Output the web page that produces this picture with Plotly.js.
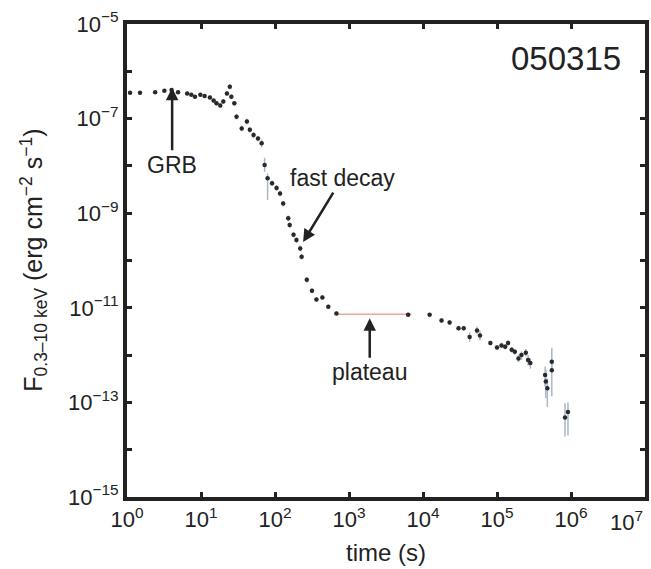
<!DOCTYPE html>
<html>
<head>
<meta charset="utf-8">
<script src="https://cdn.plot.ly/plotly-3.0.1.min.js"></script>
<style>html,body{margin:0;padding:0;background:#fff}#chart{width:651px;height:569px}</style>
</head>
<body>
<div id="chart"></div>
<script>
// observed light curve of GRB 050315 (time in s, flux in erg cm^-2 s^-1)
var timeS = [1.1, 1.5, 2.4, 3.2, 4.0, 4.9, 6.5, 7.4, 8.3, 9.8, 11.2, 13.2, 14.8, 16.2, 18.2, 20, 22.4, 24.5, 25.7, 28.2, 30.2,
  35.5, 41.7, 45.7, 51.3, 58.9, 66, 72.4, 79.4, 91.2, 105, 117, 129, 151, 158, 178, 195, 219, 229, 269, 316,
  363, 437, 525, 676, 6300, 12300, 17800, 22900, 30200, 35500, 42700, 53700, 58900, 81300,
  1.0e5, 1.15e5, 1.29e5, 1.41e5, 1.58e5, 1.74e5, 1.95e5, 2.14e5, 2.45e5, 2.63e5, 2.82e5,
  4.47e5, 4.57e5, 4.79e5, 5.5e5, 5.5e5, 8.3e5, 9.1e5];
var flux = [3.5e-7, 3.5e-7, 3.6e-7, 3.9e-7, 4.0e-7, 3.6e-7, 3.4e-7, 3.2e-7, 2.9e-7, 3.2e-7, 3.0e-7, 2.8e-7, 2.4e-7, 2.1e-7, 1.9e-7, 2.3e-7, 3.4e-7, 4.7e-7, 2.9e-7, 2.1e-7, 1.1e-7,
  6.2e-8, 8.7e-8, 5.8e-8, 4.5e-8, 3.8e-8, 3.0e-8, 1.05e-8, 5.5e-9, 4.3e-9, 3.4e-9, 2.6e-9, 1.6e-9, 7.8e-10, 5.6e-10, 3.5e-10, 2.7e-10, 1.8e-10, 1.2e-10, 3.9e-11, 2.3e-11,
  1.5e-11, 1.66e-11, 1.05e-11, 7.6e-12, 7.1e-12, 7.1e-12, 5.4e-12, 4.9e-12, 3.7e-12, 3.7e-12, 2.4e-12, 3.3e-12, 2.6e-12, 1.8e-12,
  1.45e-12, 1.6e-12, 1.5e-12, 1.8e-12, 1.3e-12, 1.17e-12, 8.5e-13, 1.0e-12, 1.12e-12, 7.9e-13, 6.8e-13,
  3.8e-13, 2.75e-13, 2.0e-13, 7.2e-13, 4.8e-13, 4.8e-14, 6.3e-14];
// error bar half-lengths in decades (upper / lower)
var errHiDex = [0.03, 0.03, 0.03, 0.03, 0.03, 0.03, 0.03, 0.03, 0.03, 0.03, 0.03, 0.04, 0.04, 0.04, 0.05, 0.05, 0.05, 0.05, 0.05, 0.05, 0.06,
  0.06, 0.06, 0.06, 0.06, 0.06, 0.08, 0.15, 0.10, 0.06, 0.06, 0.06, 0.06, 0.06, 0.06, 0.06, 0.06, 0.06, 0.06, 0.06, 0.05,
  0.05, 0.05, 0.05, 0.04, 0.04, 0.04, 0.05, 0.05, 0.05, 0.05, 0.10, 0.08, 0.10, 0.05,
  0.05, 0.06, 0.06, 0.06, 0.06, 0.06, 0.08, 0.08, 0.08, 0.10, 0.10,
  0.18, 0.25, 0.20, 0.30, 0.20, 0.30, 0.20];
var errLoDex = [0.03, 0.03, 0.03, 0.03, 0.03, 0.03, 0.03, 0.03, 0.03, 0.03, 0.03, 0.04, 0.04, 0.04, 0.05, 0.05, 0.05, 0.05, 0.05, 0.05, 0.06,
  0.06, 0.06, 0.06, 0.06, 0.06, 0.08, 0.15, 0.46, 0.06, 0.06, 0.06, 0.06, 0.06, 0.06, 0.06, 0.06, 0.06, 0.06, 0.06, 0.05,
  0.05, 0.05, 0.05, 0.04, 0.04, 0.04, 0.05, 0.05, 0.05, 0.05, 0.10, 0.08, 0.10, 0.05,
  0.05, 0.06, 0.06, 0.06, 0.06, 0.06, 0.08, 0.10, 0.08, 0.12, 0.12,
  0.25, 0.35, 0.40, 0.20, 0.55, 0.40, 0.50];
// plateau segment
var plateauT = [700, 7000];
var plateauF = [7.3e-12, 7.3e-12];

var xTickVals = [1, 10, 100, 1e3, 1e4, 1e5, 1e6, 1e7];
var xTickText = ['10<sup>0</sup>', '10<sup>1</sup>', '10<sup>2</sup>', '10<sup>3</sup>', '10<sup>4</sup>', '10<sup>5</sup>', '10<sup>6</sup>', ''];
var xLastLabel = '10<sup>7</sup>';
var yTickVals = [1e-15, 1e-14, 1e-13, 1e-12, 1e-11, 1e-10, 1e-9, 1e-8, 1e-7, 1e-6, 1e-5];
var yTickText = ['10<sup>\u221215</sup>', '', '10<sup>\u221213</sup>', '', '10<sup>\u221211</sup>', '', '10<sup>\u22129</sup>', '', '10<sup>\u22127</sup>', '', '10<sup>\u22125</sup>'];

var errPlus = flux.map(function (f, i) { return f * (Math.pow(10, errHiDex[i]) - 1); });
var errMinus = flux.map(function (f, i) { return f * (1 - Math.pow(10, -errLoDex[i])); });

var FONT = 'Liberation Sans, Arial, Helvetica, sans-serif';
var INK = '#222';

var traces = [
  {x: plateauT, y: plateauF, mode: 'lines', line: {color: '#eba79e', width: 1.5}, hoverinfo: 'skip', showlegend: false},
  {x: timeS, y: flux, mode: 'markers', type: 'scatter',
   marker: {color: '#2a2a2a', size: 4.5},
   error_y: {type: 'data', symmetric: false, array: errPlus, arrayminus: errMinus, color: '#a7b9cc', thickness: 1.5, width: 0},
   showlegend: false}
];

var layout = {
  width: 651, height: 569,
  margin: {l: 127, r: 6, t: 24, b: 72},
  paper_bgcolor: '#fff', plot_bgcolor: '#fff',
  font: {family: FONT, color: INK, size: 22},
  showlegend: false,
  xaxis: {
    type: 'log', range: [0, 7], tickmode: 'array', tickvals: xTickVals, ticktext: xTickText,
    ticks: 'inside', ticklen: 5, tickwidth: 3, tickcolor: INK,
    showline: true, linewidth: 4, linecolor: INK, mirror: 'ticks',
    showgrid: false, zeroline: false,
    tickfont: {size: 22, family: FONT, color: INK},
    title: {text: 'time (s)', font: {size: 24, family: FONT, color: INK}, standoff: 14}
  },
  yaxis: {
    type: 'log', range: [-15, -5], tickmode: 'array', tickvals: yTickVals, ticktext: yTickText,
    ticks: 'inside', ticklen: 5, tickwidth: 3, tickcolor: INK,
    showline: true, linewidth: 4, linecolor: INK, mirror: 'ticks',
    showgrid: false, zeroline: false,
    tickfont: {size: 22, family: FONT, color: INK}
  },
  annotations: [
    {xref: 'paper', yref: 'paper', x: -0.181, y: 0.5, text: 'F<sub>0.3\u201310 keV</sub> (erg cm<sup>\u22122</sup> s<sup>\u22121</sup>)',
     textangle: -90, showarrow: false, xanchor: 'center', yanchor: 'middle', font: {size: 25, family: FONT, color: INK}},
    {xref: 'paper', yref: 'paper', x: 1.0, y: 0, yshift: -8, text: xLastLabel, showarrow: false, xanchor: 'right', yanchor: 'top',
     font: {size: 22, family: FONT, color: INK}},
    {xref: 'paper', yref: 'paper', x: 0.847, y: 0.928, text: '050315', showarrow: false, xanchor: 'center', yanchor: 'middle',
     font: {size: 33, family: FONT, color: INK}},
    {x: 0.61, y: -6.35, text: 'GRB', showarrow: true, arrowhead: 2, arrowsize: 1, arrowwidth: 2.5, arrowcolor: INK,
     ax: 0, ay: 77, font: {size: 23, family: FONT, color: INK}},
    {x: 2.38, y: -9.61, text: 'fast decay', showarrow: true, arrowhead: 2, arrowsize: 1, arrowwidth: 2.5, arrowcolor: INK,
     ax: 39, ay: -64, font: {size: 23, family: FONT, color: INK}},
    {x: 3.28, y: -11.22, text: 'plateau', showarrow: true, arrowhead: 2, arrowsize: 1, arrowwidth: 2.5, arrowcolor: INK,
     ax: 0, ay: 54, font: {size: 23, family: FONT, color: INK}}
  ]
};

Plotly.newPlot('chart', traces, layout, {displayModeBar: false, staticPlot: true});
</script>
</body>
</html>
